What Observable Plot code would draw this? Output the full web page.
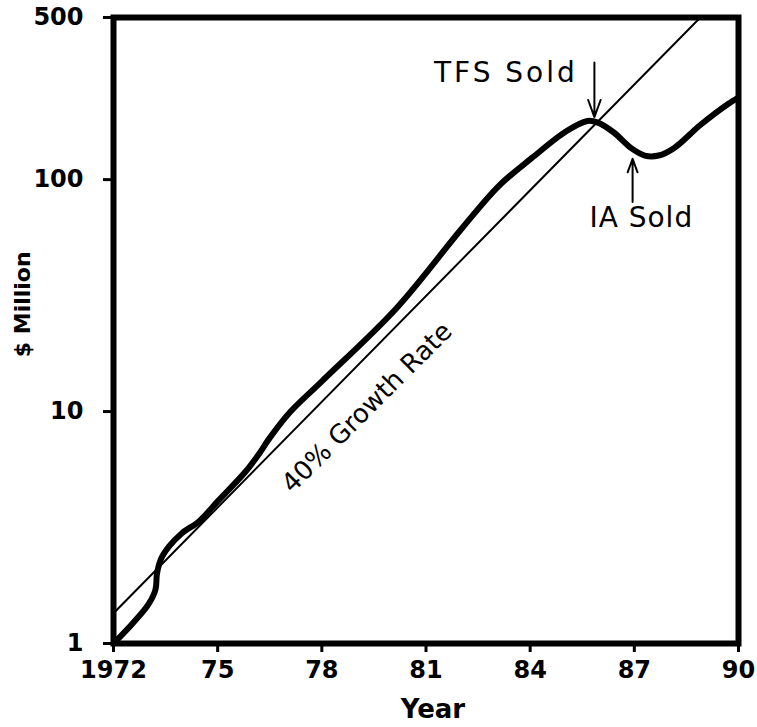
<!DOCTYPE html>
<html>
<head>
<meta charset="utf-8">
<script src="https://cdn.jsdelivr.net/npm/d3@7"></script>
<script src="https://cdn.jsdelivr.net/npm/@observablehq/plot@0.6"></script>
<style>
  html, body { margin: 0; padding: 0; background: #fff; }
</style>
</head>
<body>
<div id="chart"></div>
<script>
// Revenue curve ($ Million by year)
const years  = [1972, 1972.55, 1973.0, 1973.21, 1973.25, 1973.36, 1973.6, 1973.97, 1974.46, 1975.0, 1975.8, 1976.2, 1976.5, 1977.1, 1978.0, 1980.15, 1982.05, 1983.1, 1984.05, 1985.05, 1985.65, 1985.95, 1986.4, 1986.9, 1987.3, 1987.7, 1988.15, 1988.9, 1989.7, 1990.0];
const values = [1.0, 1.22, 1.47, 1.71, 1.99, 2.3, 2.62, 2.99, 3.36, 4.1, 5.5, 6.6, 7.7, 10.0, 13.5, 27.9, 62, 94, 124, 162, 179, 176, 160, 137, 127, 127, 137, 172, 212, 226];

// 40% growth reference line (two end points)
const growthYears  = [1972, 1988.9];
const growthValues = [1.35, 500];

// Axis ticks
const xTicks = [1972, 1975, 1978, 1981, 1984, 1987, 1990];
const xTickLabels = ["1972", "75", "78", "81", "84", "87", "90"];
const yTicks = [1, 10, 100, 500];
const yTickLabels = ["1", "10", "100", "500"];

// Annotations
const noteText = ["TFS Sold", "IA Sold"];
const noteX = [1983.3, 1987.2];
const noteY = [289, 68];
const noteSpacing = [3, 1];
const arrowX = [1985.85, 1986.95];
const arrowFrom = [320, 80];
const arrowTo = [186, 123];
const growthLabel = "40% Growth Rate";
const growthLabelX = 1979.3;
const growthLabelY = 10.4;

const revenue = years.map((y, i) => ({year: y, value: values[i]}));
const growth = growthYears.map((y, i) => ({year: y, value: growthValues[i]}));
const notes = noteText.map((t, i) => ({text: t, x: noteX[i], y: noteY[i]}));
const arrows = arrowX.map((x, i) => ({x, y1: arrowFrom[i], y2: arrowTo[i]}));
const xLabelMap = new Map(xTicks.map((t, i) => [t, xTickLabels[i]]));
const yTickData = yTicks.map((t, i) => ({value: t, label: yTickLabels[i]}));

const W = 757, ML = 113, MR = 19;
const frameWidth = W - ML - MR;

const chart = Plot.plot({
  width: W,
  height: 727,
  marginLeft: ML,
  marginRight: MR,
  marginTop: 17,
  marginBottom: 84,
  style: {background: "#fff", color: "#000", fontFamily: "DejaVu Sans"},
  x: {type: "linear", domain: [1972, 1990]},
  y: {type: "log", domain: [1, 500], axis: null},
  marks: [
    Plot.line(growth, {x: "year", y: "value", stroke: "#000", strokeWidth: 2, clip: true}),
    Plot.line(revenue, {x: "year", y: "value", stroke: "#000", strokeWidth: 6, curve: "catmull-rom", clip: true, strokeLinecap: "round"}),
    Plot.frame({stroke: "#000", strokeWidth: 6}),
    Plot.axisX({ticks: xTicks, tickFormat: d => xLabelMap.get(d), tickSize: 9, tickPadding: 8, strokeWidth: 3,
      fontSize: 24, fontWeight: "bold", fontFamily: "DejaVu Sans", label: null}),
    // y axis ticks and labels
    Plot.tickY(yTickData, {y: "value", stroke: "#000", strokeWidth: 3, insetLeft: -10, insetRight: frameWidth}),
    Plot.text(yTickData, {y: "value", text: "label", frameAnchor: "left", textAnchor: "end", dx: -30,
      fontSize: 24, fontWeight: "bold", fontFamily: "DejaVu Sans", fill: "#000"}),
    Plot.text(["Year"], {frameAnchor: "bottom", x: () => 1981.2, dy: 74, fontSize: 26, fontWeight: "bold", fontFamily: "DejaVu Sans", fill: "#000"}),
    Plot.text(["$ Million"], {frameAnchor: "left", textAnchor: "middle", y: () => 29, dx: -91, rotate: -90, fontSize: 22, fontWeight: "bold", fontFamily: "DejaVu Sans", fill: "#000"}),
    Plot.arrow(arrows, {x1: "x", x2: "x", y1: "y1", y2: "y2", stroke: "#000", strokeWidth: 2, headLength: 14, headAngle: 40}),
    Plot.text(notes, {x: "x", y: "y", text: "text", fontSize: 28, fontFamily: "DejaVu Sans", fill: "#000"}),
    Plot.text([growthLabel], {x: () => growthLabelX, y: () => growthLabelY, rotate: -45, fontSize: 26, fontFamily: "DejaVu Sans", fill: "#000"})
  ]
});

d3.select(chart).selectAll("text").each(function() {
  const i = noteText.indexOf(this.textContent);
  if (i >= 0) d3.select(this).style("letter-spacing", noteSpacing[i] + "px");
});
document.getElementById("chart").appendChild(chart);
</script>
</body>
</html>
